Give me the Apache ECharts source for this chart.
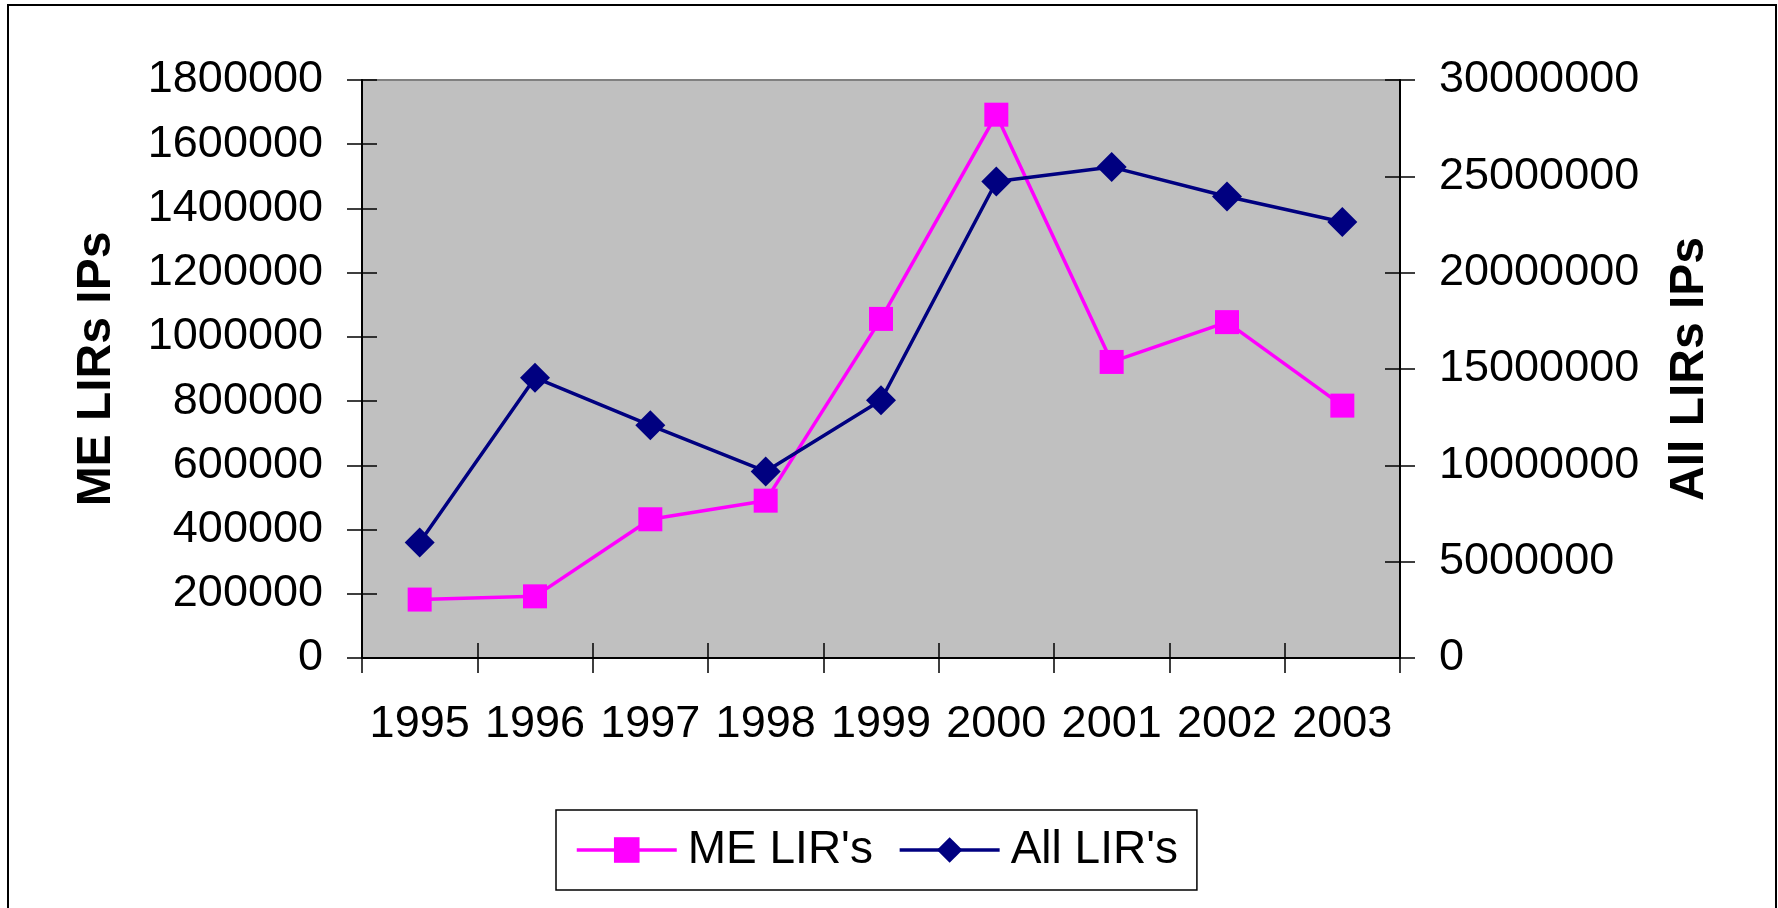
<!DOCTYPE html>
<html>
<head>
<meta charset="utf-8">
<script src="https://cdn.jsdelivr.net/npm/echarts@6/dist/echarts.min.js"></script>
<style>
  html, body { margin: 0; padding: 0; background: #fff; }
  #chart { width: 1778px; height: 908px; }
</style>
</head>
<body>
<div id="chart"></div>
<script>
// values
const years = ["1995", "1996", "1997", "1998", "1999", "2000", "2001", "2002", "2003"];
const meLirs = [182000, 192000, 432000, 490000, 1056000, 1692000, 922000, 1046000, 786000];
const allLirs = [6000000, 14550000, 12080000, 9680000, 13380000, 24730000, 25480000, 23950000, 22630000];
const leftMax = 1800000, leftStep = 200000;
const rightMax = 30000000, rightStep = 5000000;

const font = "Liberation Sans, Arial, sans-serif";
const tickStyle = { color: "#000", width: 1.5 };
const plain = (v) => String(v);

const chart = echarts.init(document.getElementById("chart"));

const option = {
  backgroundColor: "#fff",
  animation: false,
  graphic: [
    {
      type: "rect",
      shape: { x: 8, y: 5, width: 1768, height: 912 },
      style: { fill: "none", stroke: "#000", lineWidth: 2 },
      silent: true
    }
  ],
  grid: {
    left: 362, top: 80, width: 1038, height: 578,
    show: true,
    backgroundColor: "#C0C0C0",
    borderColor: "#808080",
    borderWidth: 2,
    outerBoundsMode: "none"
  },
  legend: {
    left: 556, top: 810,
    padding: [17, 19, 17, 19],
    itemWidth: 100, itemHeight: 32, itemGap: 25,
    borderColor: "#000", borderWidth: 1.5,
    backgroundColor: "#fff",
    lineStyle: { width: 3.5 },
    textStyle: { fontFamily: font, fontSize: 46, color: "#000", padding: [0, 0, 0, 6] },
    data: ["ME LIR's", "All LIR's"]
  },
  xAxis: [
    {
      type: "category", data: years, boundaryGap: true,
      axisLine: { lineStyle: { color: "#000", width: 2 } },
      axisTick: { show: true, length: 15, lineStyle: tickStyle },
      axisLabel: { fontFamily: font, fontSize: 45, color: "#000", margin: 44, interval: 0 },
      splitLine: { show: false }
    },
    {
      type: "category", data: years, boundaryGap: true, position: "bottom",
      axisLine: { show: false },
      axisTick: { show: true, inside: true, length: 15, lineStyle: tickStyle },
      axisLabel: { show: false },
      splitLine: { show: false }
    }
  ],
  yAxis: [
    {
      type: "value", min: 0, max: leftMax, interval: leftStep, position: "left",
      name: "ME LIRs IPs", nameLocation: "middle", nameGap: 241, nameRotate: 90,
      nameTextStyle: { fontFamily: font, fontSize: 48, fontWeight: "bold", color: "#000" },
      axisLine: { show: true, lineStyle: { color: "#000", width: 2 } },
      axisTick: { show: true, length: 15, lineStyle: tickStyle },
      axisLabel: { fontFamily: font, fontSize: 45, color: "#000", margin: 39, formatter: plain },
      splitLine: { show: false }
    },
    {
      type: "value", min: 0, max: rightMax, interval: rightStep, position: "right",
      name: "All LIRs IPs", nameLocation: "middle", nameGap: 266, nameRotate: 90,
      nameTextStyle: { fontFamily: font, fontSize: 48, fontWeight: "bold", color: "#000" },
      axisLine: { show: true, lineStyle: { color: "#000", width: 2 } },
      axisTick: { show: true, length: 15, lineStyle: tickStyle },
      axisLabel: { fontFamily: font, fontSize: 45, color: "#000", margin: 39, formatter: plain },
      splitLine: { show: false }
    },
    {
      type: "value", min: 0, max: leftMax, interval: leftStep, position: "left",
      axisLine: { show: false },
      axisTick: { show: true, inside: true, length: 15, lineStyle: tickStyle },
      axisLabel: { show: false },
      splitLine: { show: false }
    },
    {
      type: "value", min: 0, max: rightMax, interval: rightStep, position: "right",
      axisLine: { show: false },
      axisTick: { show: true, inside: true, length: 15, lineStyle: tickStyle },
      axisLabel: { show: false },
      splitLine: { show: false }
    }
  ],
  series: [
    {
      name: "ME LIR's", type: "line", yAxisIndex: 0, data: meLirs,
      symbol: "rect", symbolSize: 24,
      lineStyle: { color: "#FF00FF", width: 3.5 },
      itemStyle: { color: "#FF00FF", borderWidth: 0 }
    },
    {
      name: "All LIR's", type: "line", yAxisIndex: 1, data: allLirs,
      symbol: "diamond", symbolSize: 30,
      lineStyle: { color: "#000080", width: 3.5 },
      itemStyle: { color: "#000080", borderWidth: 0 }
    }
  ]
};

chart.setOption(option);
</script>
</body>
</html>
